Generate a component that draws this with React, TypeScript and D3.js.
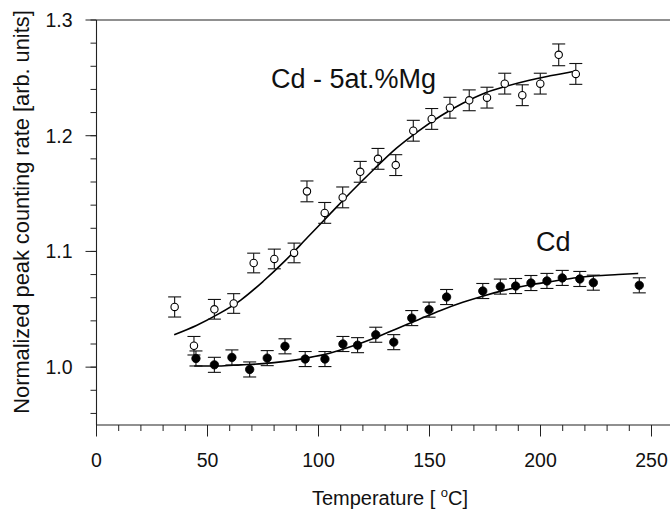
import React from "react";
import * as d3 from "d3";

// Cd - 5at.%Mg (open circles)
const mgTemps = [35.2, 43.9, 53.1, 61.8, 70.8, 80.1, 89.0, 94.8, 102.8, 110.9, 118.8, 126.8, 134.8, 142.7, 151.0, 159.2, 167.9, 175.9, 183.9, 191.8, 199.9, 208.2, 215.9];
const mgValues = [1.052, 1.0185, 1.050, 1.055, 1.090, 1.0935, 1.0987, 1.1519, 1.1333, 1.1467, 1.1688, 1.180, 1.1746, 1.2043, 1.2145, 1.2242, 1.2306, 1.2329, 1.245, 1.235, 1.245, 1.2699, 1.2534];
const mgErrors = [0.0087, 0.008, 0.0085, 0.0085, 0.0085, 0.0085, 0.0085, 0.009, 0.009, 0.009, 0.009, 0.009, 0.009, 0.009, 0.009, 0.009, 0.009, 0.009, 0.009, 0.009, 0.009, 0.0094, 0.009];
const mgFitTemps = [35, 45, 55, 65, 75, 85, 95, 105, 115, 125, 135, 145, 155, 165, 175, 185, 195, 205, 216];
const mgFitValues = [1.028, 1.036, 1.046, 1.058, 1.074, 1.092, 1.112, 1.132, 1.152, 1.171, 1.189, 1.204, 1.217, 1.228, 1.237, 1.243, 1.248, 1.252, 1.256];

// Cd (filled circles)
const cdTemps = [44.8, 53.1, 61.0, 69.0, 76.9, 84.9, 94.0, 102.9, 111.0, 117.6, 125.8, 133.9, 142.0, 149.8, 157.7, 174.0, 181.9, 188.8, 195.7, 202.9, 209.8, 217.7, 223.8, 244.5];
const cdValues = [1.0075, 1.002, 1.0084, 0.998, 1.0078, 1.018, 1.007, 1.007, 1.020, 1.019, 1.028, 1.0216, 1.0424, 1.0497, 1.0606, 1.0658, 1.0696, 1.0701, 1.0727, 1.0745, 1.0771, 1.0762, 1.073, 1.0707];
const cdErrors = [0.0065, 0.0065, 0.0065, 0.0065, 0.0065, 0.0065, 0.0065, 0.0065, 0.0065, 0.0065, 0.0065, 0.0065, 0.0065, 0.0065, 0.0065, 0.0065, 0.0065, 0.0065, 0.0065, 0.0065, 0.0065, 0.0065, 0.0065, 0.0065];
const cdFitTemps = [44, 55, 65, 75, 85, 95, 105, 115, 125, 135, 145, 155, 165, 175, 185, 195, 205, 215, 225, 235, 244];
const cdFitValues = [1.001, 1.001, 1.002, 1.003, 1.005, 1.008, 1.012, 1.018, 1.025, 1.033, 1.041, 1.049, 1.056, 1.062, 1.067, 1.071, 1.074, 1.077, 1.079, 1.080, 1.081];

const xTicks = [0, 50, 100, 150, 200, 250];
const yTicks = [1.0, 1.1, 1.2, 1.3];

const W = 670;
const H = 515;
const FONT = "'Liberation Sans', Arial, sans-serif";

export default function App() {
  const x = d3.scaleLinear().domain([0, 260]).range([96.5, 96.5 + 260 * 2.22]);
  const y = d3.scaleLinear().domain([0.95, 1.3]).range([425, 20]);
  const x0 = x(0);
  const yBottom = y(0.95);
  const yTop = y(1.3);
  const xRight = x(260);

  const line = d3
    .line<[number, number]>()
    .x((d) => x(d[0]))
    .y((d) => y(d[1]))
    .curve(d3.curveMonotoneX);

  const mgFit = line(mgFitTemps.map((t, i) => [t, mgFitValues[i]]) as [number, number][]) || "";
  const cdFit = line(cdFitTemps.map((t, i) => [t, cdFitValues[i]]) as [number, number][]) || "";

  const xMinor = d3.range(0, 261, 10);
  const yMinor = d3.range(0, 18).map((i) => 0.96 + i * 0.02).filter((v) => v <= 1.3001);

  const cap = 6.5;

  const errBar = (t: number, v: number, e: number, key: string) => {
    const cx = x(t);
    const y1 = y(v + e);
    const y2 = y(v - e);
    return (
      <g key={key} stroke="#111" strokeWidth={1.1}>
        <line x1={cx} x2={cx} y1={y1} y2={y2} />
        <line x1={cx - cap} x2={cx + cap} y1={y1} y2={y1} />
        <line x1={cx - cap} x2={cx + cap} y1={y2} y2={y2} />
      </g>
    );
  };

  return (
    <svg
      width={W}
      height={H}
      style={{ position: "absolute", left: 0, top: 0, background: "#fff" }}
      fontFamily={FONT}
    >
      <rect x={0} y={0} width={W} height={H} fill="#fff" />
      {/* axes frame */}
      <line x1={x0} x2={x0} y1={yTop} y2={yBottom} stroke="#222" strokeWidth={1.1} />
      <line x1={x0} x2={xRight} y1={yBottom} y2={yBottom} stroke="#222" strokeWidth={1.1} />
      <line x1={x0} x2={xRight} y1={yTop} y2={yTop} stroke="#222" strokeWidth={1.1} />

      {/* y ticks */}
      {yMinor.map((v, i) => (
        <line key={"ym" + i} x1={x0 - 6} x2={x0} y1={y(v)} y2={y(v)} stroke="#222" strokeWidth={1} />
      ))}
      {yTicks.map((v) => (
        <g key={"y" + v}>
          <line x1={x0 - 11} x2={x0} y1={y(v)} y2={y(v)} stroke="#222" strokeWidth={1} />
          <text x={x0 - 24} y={y(v)} dy="0.36em" textAnchor="end" fontSize={19.5} fill="#111">
            {d3.format(".1f")(v)}
          </text>
        </g>
      ))}

      {/* x ticks */}
      {xMinor.map((t) => (
        <line key={"xm" + t} x1={x(t)} x2={x(t)} y1={yBottom} y2={yBottom + 6} stroke="#222" strokeWidth={1} />
      ))}
      {xTicks.map((t) => (
        <g key={"x" + t}>
          <line x1={x(t)} x2={x(t)} y1={yBottom} y2={yBottom + 11.5} stroke="#222" strokeWidth={1} />
          <text x={x(t)} y={467} textAnchor="middle" fontSize={19.5} fill="#111">
            {t}
          </text>
        </g>
      ))}

      {/* axis titles */}
      <text x={390} y={505} textAnchor="middle" fontSize={20} fill="#111">
        Temperature [ <tspan fontSize={13} dy={-8}>o</tspan>
        <tspan dy={8}>C]</tspan>
      </text>
      <text
        transform={`translate(29, ${212}) rotate(-90)`}
        textAnchor="middle"
        fontSize={21.8}
        fill="#111"
      >
        Normalized peak counting rate [arb. units]
      </text>

      {/* fits */}
      <path d={mgFit} fill="none" stroke="#000" strokeWidth={1.6} />
      <path d={cdFit} fill="none" stroke="#000" strokeWidth={1.6} />

      {/* error bars */}
      {mgTemps.map((t, i) => errBar(t, mgValues[i], mgErrors[i], "me" + i))}
      {cdTemps.map((t, i) => errBar(t, cdValues[i], cdErrors[i], "ce" + i))}

      {/* points */}
      {mgTemps.map((t, i) => (
        <circle key={"mp" + i} cx={x(t)} cy={y(mgValues[i])} r={3.7} fill="#fff" stroke="#000" strokeWidth={1.1} />
      ))}
      {cdTemps.map((t, i) => (
        <circle key={"cp" + i} cx={x(t)} cy={y(cdValues[i])} r={4.2} fill="#000" stroke="#000" strokeWidth={0.8} />
      ))}

      {/* annotations */}
      <text x={271} y={88} fontSize={27} fill="#111">
        Cd - 5at.%Mg
      </text>
      <text x={536} y={251} fontSize={27} fill="#111">
        Cd
      </text>
    </svg>
  );
}
